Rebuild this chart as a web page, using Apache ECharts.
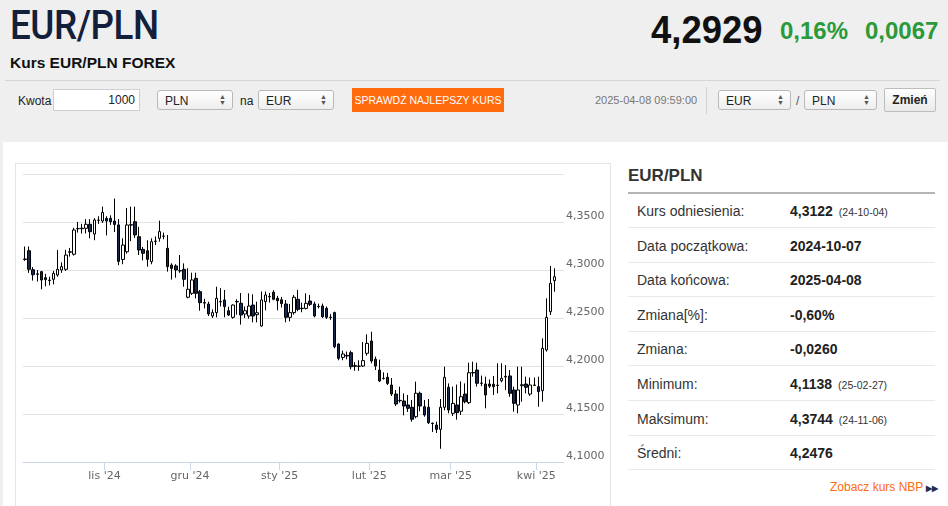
<!DOCTYPE html>
<html><head><meta charset="utf-8">
<script src="https://cdn.jsdelivr.net/npm/echarts@6/dist/echarts.min.js"></script>
<style>
html,body{margin:0;padding:0;}
body{width:948px;height:506px;overflow:hidden;background:#efefef;font-family:"Liberation Sans",Arial,sans-serif;position:relative;color:#222;}
.abs{position:absolute;}
.title{left:10px;top:3px;font-family:Roboto,"Liberation Sans",sans-serif;font-weight:500;font-size:40px;color:#13203c;transform:scaleX(0.92);transform-origin:left top;line-height:46px;letter-spacing:-0.5px;}
.sub{left:10px;top:54px;font-size:15.5px;font-weight:bold;color:#111;line-height:18px;}
.price{left:651px;top:8px;font-size:38px;font-weight:bold;color:#111;line-height:44px;transform:scaleX(0.96);transform-origin:left top;}
.chg{top:16px;font-size:24px;font-weight:bold;color:#2a9a3a;line-height:30px;}
.hr{left:5px;top:80px;width:935px;height:1px;background:#d6d6d6;}
.lbl{font-size:12px;color:#222;line-height:14px;}
.sel{height:20px;border:1px solid #b9b9b9;border-radius:3px;background:linear-gradient(#ffffff,#eeeeee);font-size:12px;line-height:20px;box-sizing:border-box;padding-left:7px;}
.sel .ar{position:absolute;right:6px;top:3px;font-size:7px;line-height:6px;color:#555;}
.inp{left:53px;top:89px;width:87px;height:22px;background:#fff;border:1px solid #cfcfcf;box-sizing:border-box;font-size:12px;text-align:right;padding-right:4px;line-height:20px;}
.btn{left:352px;top:88px;width:152px;height:24px;background:#ff6a0c;color:#fff;font-size:10.5px;line-height:24px;text-align:center;}
.date{left:595px;top:94px;font-size:11px;color:#777;line-height:13px;}
.vsep{left:706px;top:87px;width:1px;height:27px;background:#d3d3d3;}
.zm{left:884px;top:88px;width:52px;height:24px;border:1px solid #bdbdbd;border-radius:2px;background:linear-gradient(#ffffff,#e9e9e9);box-sizing:border-box;font-size:12px;font-weight:bold;text-align:center;line-height:22px;}
.panel{left:3px;top:142px;width:945px;height:364px;background:#fff;}
.cbox{left:15px;top:163px;width:596px;height:345px;border:1px solid #e4e4e4;box-sizing:border-box;background:#fff;}
#chart{position:absolute;left:15px;top:163px;width:596px;height:343px;}
.h2{left:628px;top:166px;font-size:17px;font-weight:bold;color:#333;line-height:20px;}
.h2line{left:628px;top:192px;width:307px;height:2px;background:#b5b5b5;}
.row{left:628px;width:307px;height:34px;border-bottom:1px solid #e9e9e9;box-sizing:border-box;font-size:14px;color:#333;}
.row .k{position:absolute;left:9px;top:9px;line-height:16px;}
.row .v{position:absolute;left:162px;top:9px;line-height:16px;font-weight:bold;color:#222;}
.row .s{font-size:10.5px;font-weight:normal;color:#333;margin-left:6px;}
.nbp{left:830px;top:480px;font-size:12px;color:#ff6a0c;line-height:14px;}
.nbp b{color:#1d2d4d;font-size:8px;margin-left:3px;}
</style></head>
<body>
<div class="abs title">EUR/PLN</div>
<div class="abs sub">Kurs EUR/PLN FOREX</div>
<div class="abs price">4,2929</div>
<div class="abs chg" style="left:780px">0,16%</div>
<div class="abs chg" style="left:865px">0,0067</div>
<div class="abs hr"></div>

<div class="abs lbl" style="left:18px;top:94px">Kwota</div>
<div class="abs inp">1000</div>
<div class="abs sel" style="left:157px;top:90px;width:76px">PLN<span class="ar">▲<br>▼</span></div>
<div class="abs lbl" style="left:240px;top:94px">na</div>
<div class="abs sel" style="left:258px;top:90px;width:76px">EUR<span class="ar">▲<br>▼</span></div>
<div class="abs btn">SPRAWDŹ NAJLEPSZY KURS</div>
<div class="abs date">2025-04-08 09:59:00</div>
<div class="abs vsep"></div>
<div class="abs sel" style="left:718px;top:90px;width:73px">EUR<span class="ar">▲<br>▼</span></div>
<div class="abs lbl" style="left:796px;top:94px;color:#555">/</div>
<div class="abs sel" style="left:804px;top:90px;width:73px">PLN<span class="ar">▲<br>▼</span></div>
<div class="abs zm">Zmień</div>

<div class="abs panel"></div>
<div class="abs cbox"></div>
<div id="chart"></div>

<div class="abs h2">EUR/PLN</div>
<div class="abs h2line"></div>
<div id="table"></div>
<div class="abs nbp">Zobacz kurs NBP<b>▶▶</b></div>

<script>
// ---- data ----
const dates = [
'2024-10-07','2024-10-08','2024-10-09','2024-10-10','2024-10-11','2024-10-14','2024-10-15','2024-10-16','2024-10-17','2024-10-18',
'2024-10-21','2024-10-22','2024-10-23','2024-10-24','2024-10-25','2024-10-28','2024-10-29','2024-10-30','2024-10-31',
'2024-11-01','2024-11-04','2024-11-05','2024-11-06','2024-11-07','2024-11-08','2024-11-11','2024-11-12','2024-11-13','2024-11-14','2024-11-15',
'2024-11-18','2024-11-19','2024-11-20','2024-11-21','2024-11-22','2024-11-25','2024-11-26','2024-11-27','2024-11-28','2024-11-29',
'2024-12-02','2024-12-03','2024-12-04','2024-12-05','2024-12-06','2024-12-09','2024-12-10','2024-12-11','2024-12-12','2024-12-13',
'2024-12-16','2024-12-17','2024-12-18','2024-12-19','2024-12-20','2024-12-23','2024-12-24','2024-12-25','2024-12-26','2024-12-27','2024-12-30','2024-12-31',
'2025-01-02','2025-01-03','2025-01-06','2025-01-07','2025-01-08','2025-01-09','2025-01-10','2025-01-13','2025-01-14','2025-01-15',
'2025-01-16','2025-01-17','2025-01-20','2025-01-21','2025-01-22','2025-01-23','2025-01-24','2025-01-27','2025-01-28','2025-01-29','2025-01-30','2025-01-31',
'2025-02-03','2025-02-04','2025-02-05','2025-02-06','2025-02-07','2025-02-10','2025-02-11','2025-02-12','2025-02-13','2025-02-14',
'2025-02-17','2025-02-18','2025-02-19','2025-02-20','2025-02-21','2025-02-24','2025-02-25','2025-02-26','2025-02-27','2025-02-28',
'2025-03-03','2025-03-04','2025-03-05','2025-03-06','2025-03-07','2025-03-10','2025-03-11','2025-03-12','2025-03-13','2025-03-14',
'2025-03-17','2025-03-18','2025-03-19','2025-03-20','2025-03-21','2025-03-24','2025-03-25','2025-03-26','2025-03-27','2025-03-28','2025-03-31',
'2025-04-01','2025-04-02','2025-04-03','2025-04-04','2025-04-07','2025-04-08'
];
const open = [
4.3110,4.3201,4.3003,4.2960,4.2983,4.2920,4.2895,4.2903,4.2948,4.3000,
4.3007,4.3185,4.3164,4.3430,4.3435,4.3434,4.3476,4.3375,4.3518,4.3510,
4.3538,4.3538,4.3510,4.3470,4.3110,4.3190,4.3468,4.3503,4.3347,4.3215,
4.3201,4.3087,4.3298,4.3330,4.3352,4.3226,4.3052,4.3042,4.2990,4.3007,
4.2716,4.2757,4.2913,4.2774,4.2660,4.2646,4.2521,4.2556,4.2668,4.2688,
4.2576,4.2507,4.2668,4.2653,4.2542,4.2521,4.2635,4.2535,4.2417,4.2670,
4.2720,4.2768,4.2705,4.2690,4.2646,4.2507,4.2556,4.2695,4.2598,4.2600,
4.2677,4.2646,4.2618,4.2625,4.2601,4.2509,4.2556,4.2229,4.2090,4.2110,
4.2139,4.2004,4.1999,4.2000,4.2132,4.2260,4.2070,4.1958,4.1870,4.1882,
4.1802,4.1708,4.1638,4.1635,4.1594,4.1570,4.1472,4.1716,4.1576,4.1570,
4.1405,4.1385,4.1340,4.1570,4.1778,4.1507,4.1594,4.1529,4.1708,4.1618,
4.1928,4.1958,4.1822,4.1812,4.1812,4.1810,4.1800,4.1847,4.1885,4.1896,
4.1750,4.1594,4.1795,4.1812,4.1708,4.1798,4.1785,4.1743,4.2167,4.2566,
4.2889
];
const close = [
4.3115,4.3007,4.2951,4.2955,4.2896,4.2900,4.2890,4.2965,4.3007,4.3035,
4.3156,4.3190,4.3417,4.3432,4.3430,4.3476,4.3399,4.3521,4.3520,4.3600,
4.3510,4.3503,4.3475,4.3090,4.3260,4.3469,4.3472,4.3365,4.3208,4.3174,
4.3111,4.3295,4.3302,4.3400,4.3354,4.3035,4.3017,4.3000,4.2993,4.2903,
4.2799,4.2896,4.2757,4.2660,4.2655,4.2542,4.2556,4.2705,4.2672,4.2618,
4.2531,4.2635,4.2672,4.2531,4.2576,4.2625,4.2521,4.2555,4.2688,4.2740,
4.2724,4.2695,4.2680,4.2650,4.2507,4.2556,4.2716,4.2590,4.2602,4.2653,
4.2642,4.2521,4.2622,4.2514,4.2507,4.2505,4.2201,4.2080,4.2125,4.2104,
4.1993,4.1997,4.1997,4.2056,4.2236,4.2052,4.2000,4.1844,4.1872,4.1819,
4.1708,4.1604,4.1642,4.1583,4.1559,4.1445,4.1716,4.1583,4.1490,4.1410,
4.1400,4.1340,4.1570,4.1882,4.1542,4.1611,4.1514,4.1680,4.1628,4.1930,
4.1932,4.1820,4.1820,4.1698,4.1790,4.1785,4.1798,4.1872,4.1892,4.1715,
4.1611,4.1750,4.1805,4.1778,4.1802,4.1802,4.1733,4.2184,4.2507,4.2861,
4.2930
];
const low = [
4.3095,4.2970,4.2890,4.2880,4.2799,4.2830,4.2840,4.2850,4.2930,4.2970,
4.2990,4.3140,4.3150,4.3390,4.3380,4.3380,4.3330,4.3310,4.3480,4.3490,
4.3360,4.3470,4.3395,4.3050,4.3060,4.3170,4.3300,4.3333,4.3156,4.3100,
4.3035,4.3060,4.3260,4.3295,4.3320,4.2983,4.2900,4.2920,4.2970,4.2826,
4.2705,4.2740,4.2705,4.2576,4.2600,4.2521,4.2500,4.2507,4.2620,4.2507,
4.2521,4.2493,4.2535,4.2431,4.2500,4.2493,4.2455,4.2455,4.2410,4.2580,
4.2660,4.2685,4.2580,4.2610,4.2455,4.2465,4.2535,4.2570,4.2560,4.2590,
4.2625,4.2507,4.2600,4.2500,4.2490,4.2480,4.2184,4.2060,4.2060,4.2070,
4.1965,4.1950,4.1950,4.1990,4.2108,4.2028,4.1958,4.1833,4.1858,4.1802,
4.1688,4.1583,4.1618,4.1486,4.1521,4.1420,4.1455,4.1528,4.1472,4.1396,
4.1313,4.1302,4.1138,4.1538,4.1507,4.1479,4.1441,4.1490,4.1611,4.1604,
4.1889,4.1785,4.1790,4.1559,4.1770,4.1698,4.1715,4.1830,4.1750,4.1680,
4.1524,4.1507,4.1628,4.1715,4.1688,4.1795,4.1576,4.1628,4.2150,4.2531,
4.2774
];
const high = [
4.3245,4.3245,4.3030,4.3000,4.2990,4.2960,4.2930,4.2990,4.3208,4.3080,
4.3210,4.3230,4.3440,4.3500,4.3480,4.3530,4.3530,4.3540,4.3560,4.3660,
4.3560,4.3570,4.3744,4.3530,4.3330,4.3646,4.3660,4.3660,4.3450,4.3240,
4.3310,4.3330,4.3350,4.3514,4.3390,4.3365,4.3070,4.3060,4.3156,4.3069,
4.3017,4.2972,4.2972,4.2792,4.2700,4.2670,4.2590,4.2826,4.2810,4.2792,
4.2618,4.2642,4.2695,4.2760,4.2620,4.2757,4.2747,4.2670,4.2776,4.2776,
4.2760,4.2790,4.2730,4.2720,4.2688,4.2646,4.2740,4.2792,4.2660,4.2757,
4.2740,4.2670,4.2650,4.2650,4.2620,4.2540,4.2566,4.2236,4.2160,4.2150,
4.2160,4.2040,4.2060,4.2250,4.2330,4.2357,4.2098,4.2066,4.1934,4.1927,
4.1875,4.1750,4.1785,4.1715,4.1698,4.1646,4.1837,4.1733,4.1646,4.1656,
4.1410,4.1420,4.1656,4.1993,4.1819,4.1785,4.1806,4.1840,4.1819,4.2035,
4.2045,4.2035,4.1900,4.1889,4.1860,4.1896,4.2028,4.2028,4.2010,4.1958,
4.1785,4.1993,4.1993,4.1889,4.1880,4.1880,4.1889,4.2288,4.2705,4.3042,
4.3017
];
const monthLabels = {"2024-11":"lis '24","2024-12":"gru '24","2025-01":"sty '25","2025-02":"lut '25","2025-03":"mar '25","2025-04":"kwi '25"};
const yMin = 4.10, yMax = 4.40, yStep = 0.05;

const statLabels = ["Kurs odniesienia:","Data początkowa:","Data końcowa:","Zmiana[%]:","Zmiana:","Minimum:","Maksimum:","Średni:"];
const statValues = ["4,3122","2024-10-07","2025-04-08","-0,60%","-0,0260","4,1138","4,3744","4,2476"];
const statNotes  = ["(24-10-04)","","","","","(25-02-27)","(24-11-06)",""];

// ---- table ----
const tbl = document.getElementById('table');
statLabels.forEach((l, i) => {
  const r = document.createElement('div');
  r.className = 'abs row';
  r.style.top = (194 + i * 34.6) + 'px';
  r.innerHTML = '<span class="k">' + l + '</span><span class="v">' + statValues[i] +
    (statNotes[i] ? '<span class="s">' + statNotes[i] + '</span>' : '') + '</span>';
  tbl.appendChild(r);
});

// ---- chart ----
const candles = dates.map((d, i) => [i, open[i], close[i], low[i], high[i]]);
const tickPos = [], tickText = [];
dates.forEach((d, i) => {
  if (i > 0 && d.slice(0, 7) !== dates[i - 1].slice(0, 7)) {
    tickPos.push(i + 0.5);
    tickText.push(monthLabels[d.slice(0, 7)]);
  }
});

const chart = echarts.init(document.getElementById('chart'), null, {renderer: 'canvas'});
chart.setOption({
  animation: false,
  grid: {left: 8, right: 47, top: 11, bottom: 44, outerBoundsMode: 'none', containLabel: false},
  xAxis: {
    type: 'value', min: -0.5, max: 132.3,
    axisLine: {show: true, lineStyle: {color: '#ccd6eb'}},
    axisTick: {show: true, customValues: tickPos, length: 8, lineStyle: {color: '#ccd6eb'}},
    axisLabel: {customValues: tickPos, margin: 9, color: '#666', fontSize: 11, fontFamily: 'DejaVu Sans',
      formatter: v => { const k = tickPos.findIndex(p => Math.abs(p - v) < 1e-6); return k >= 0 ? tickText[k] : ''; }},
    splitLine: {show: false}
  },
  yAxis: {
    type: 'value', position: 'right', min: yMin, max: yMax, interval: yStep, scale: true,
    axisLine: {show: false}, axisTick: {show: false},
    axisLabel: {showMaxLabel: false, margin: 2, verticalAlign: 'bottom', color: '#666', fontSize: 11, fontFamily: 'DejaVu Sans',
      formatter: v => v.toFixed(4).replace('.', ',')},
    splitLine: {lineStyle: {color: '#e3e3e3'}}
  },
  series: [{
    type: 'candlestick',
    data: candles,
    encode: {x: 0, y: [1, 2, 3, 4]},
    barWidth: 3,
    itemStyle: {color: '#ffffff', color0: '#15294d', borderColor: '#000000', borderColor0: '#000000', borderWidth: 1}
  }]
});
</script>
</body></html>
